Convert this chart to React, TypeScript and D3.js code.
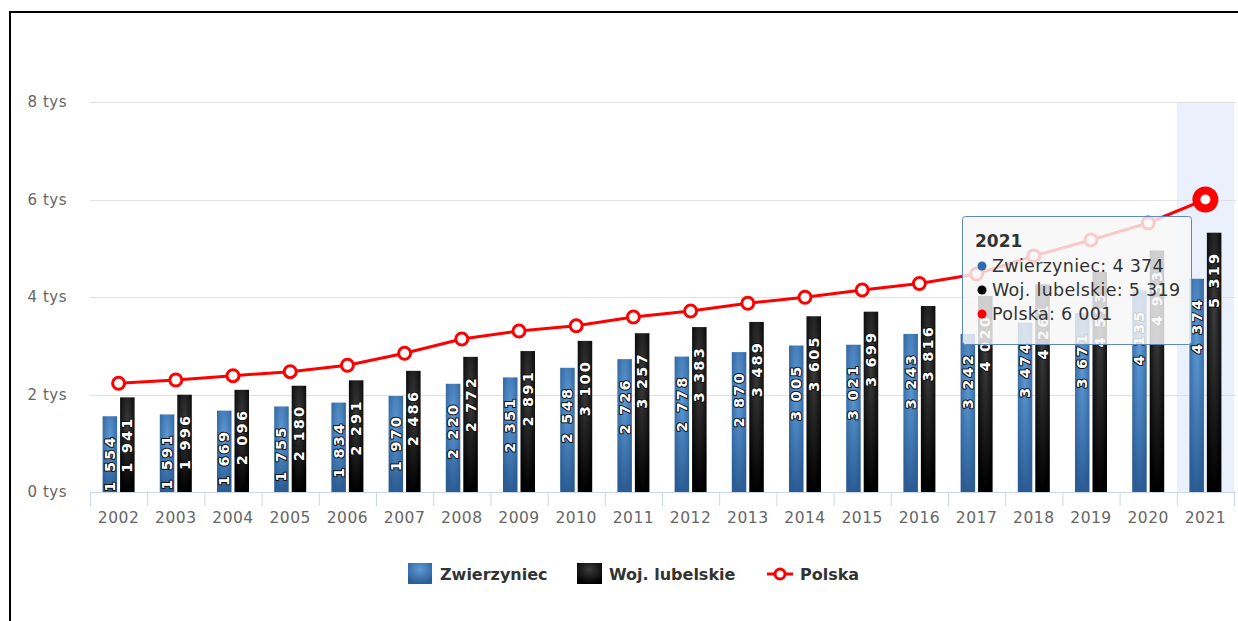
import React from "react";
import * as d3 from "d3";

const years = ["2002", "2003", "2004", "2005", "2006", "2007", "2008", "2009", "2010", "2011",
  "2012", "2013", "2014", "2015", "2016", "2017", "2018", "2019", "2020", "2021"];
const zwierzyniec = [1554, 1591, 1669, 1755, 1834, 1970, 2220, 2351, 2548, 2726,
  2778, 2870, 3005, 3021, 3243, 3242, 3474, 3671, 4135, 4374];
const lubelskie = [1941, 1996, 2096, 2180, 2291, 2486, 2772, 2891, 3100, 3257,
  3383, 3489, 3605, 3699, 3816, 4020, 4261, 4513, 4953, 5319];
const polska = [2230, 2297, 2386, 2468, 2600, 2845, 3138, 3303, 3411, 3590,
  3713, 3871, 3994, 4144, 4277, 4472, 4841, 5169, 5518, 6001];
const yTicks = [0, 2000, 4000, 6000, 8000];
const seriesNames = ["Zwierzyniec", "Woj. lubelskie", "Polska"];

const W = 1238;
const H = 621;
const margin = { top: 102, right: 4, bottom: 129, left: 90 };

const fmt = d3.formatLocale({ decimal: ",", thousands: " ", grouping: [3], currency: ["", ""] }).format(",");

function App() {
  const x = d3.scaleBand().domain(years).range([margin.left, 1234]);
  const xs = d3.scaleBand().domain(["a", "b"]).range([0, x.bandwidth()]).paddingInner(0.17).paddingOuter(0.72);
  const y = d3.scaleLinear().domain([0, 8000]).range([H - margin.bottom, margin.top]);
  const y0 = y(0);
  const cx = (i: number) => (x(years[i]) as number) + x.bandwidth() / 2;

  const line = d3.line<number>().x((_, i) => cx(i)).y((d) => y(d));
  const last = years.length - 1;
  const hx = x(years[last]) as number;

  const barSeries = [
    { key: "a", data: zwierzyniec, fill: "url(#gBlue)" },
    { key: "b", data: lubelskie, fill: "url(#gBlack)" },
  ];

  const font = "'DejaVu Sans', sans-serif";

  return (
    <svg width={W} height={H} style={{ position: "absolute", left: 0, top: 0, background: "#fff" }} fontFamily={font}>
      <defs>
        <radialGradient id="gBlue" cx="0.5" cy="0.3" r="0.7">
          <stop offset="0" stopColor="#5c9ad6" />
          <stop offset="1" stopColor="#2b5c94" />
        </radialGradient>
        <radialGradient id="gBlack" cx="0.5" cy="0.3" r="0.7">
          <stop offset="0" stopColor="#3c3c3c" />
          <stop offset="1" stopColor="#000" />
        </radialGradient>
      </defs>

      {/* frame */}
      <line x1={10} x2={10} y1={12} y2={H} stroke="#000" strokeWidth={2} />
      <line x1={9} x2={W} y1={12} y2={12} stroke="#000" strokeWidth={2} />

      {/* hover band */}
      <rect x={hx} y={margin.top} width={x.bandwidth()} height={y0 - margin.top} fill="#eaf1fc" />

      {/* grid + y labels */}
      {yTicks.map((t) => (
        <g key={t}>
          {t > 0 && <line x1={margin.left} x2={1236} y1={Math.round(y(t)) + 0.5} y2={Math.round(y(t)) + 0.5} stroke="#e0e0e0" />}
          <text x={67} y={y(t)} textAnchor="end" dominantBaseline="central" fontSize={15} fill="#666" letterSpacing={0.5}>
            {t / 1000} tys
          </text>
        </g>
      ))}

      {/* x axis */}
      <line x1={margin.left} x2={1236} y1={y0 + 0.5} y2={y0 + 0.5} stroke="#ccd6eb" />
      {years.map((yr) => (
        <line key={"t" + yr} x1={(x(yr) as number) + 0.5} x2={(x(yr) as number) + 0.5} y1={y0} y2={y0 + 14} stroke="#ccd6eb" />
      ))}
      <line x1={1234.5} x2={1234.5} y1={y0} y2={y0 + 14} stroke="#ccd6eb" />
      {years.map((yr) => (
        <text key={"l" + yr} x={(x(yr) as number) + x.bandwidth() / 2} y={523} textAnchor="middle" fontSize={15.5} fill="#666" letterSpacing={0.5}>
          {yr}
        </text>
      ))}

      {/* bars */}
      {barSeries.map((s) => (
        <g key={s.key}>
          {s.data.map((v, i) => (
            <rect key={i} x={(x(years[i]) as number) + (xs(s.key) as number)} y={y(v)} width={xs.bandwidth()} height={y0 - y(v)} fill={s.fill} />
          ))}
        </g>
      ))}

      {/* data labels */}
      {barSeries.map((s) => (
        <g key={"dl" + s.key}>
          {s.data.map((v, i) => (
            <text
              key={i}
              transform={`translate(${(x(years[i]) as number) + (xs(s.key) as number) + xs.bandwidth() / 2},${y(v) + 19}) rotate(-90)`}
              textAnchor="end"
              dominantBaseline="central"
              fontSize={14.5}
              fontWeight="bold"
              letterSpacing={2.2}
              fill="#fff"
              stroke="#111"
              strokeWidth={2}
              strokeLinejoin="round"
              paintOrder="stroke"
            >
              {fmt(v)}
            </text>
          ))}
        </g>
      ))}

      {/* Polska line */}
      <path d={line(polska) as string} fill="none" stroke="#ff0000" strokeWidth={3} />
      {polska.map((v, i) =>
        i === last ? null : (
          <circle key={i} cx={cx(i)} cy={y(v)} r={6} fill="#fff" stroke="#ff0000" strokeWidth={3} />
        )
      )}
      <circle cx={cx(last)} cy={y(polska[last])} r={9} fill="#fff" stroke="#ff0000" strokeWidth={8} />

      {/* tooltip */}
      <g>
        <rect x={962.5} y={216.5} width={229} height={128} rx={3} fill="rgba(247,247,247,0.82)" stroke="#5f87bb" strokeWidth={1} />
        <text x={975} y={247} fontSize={17} fontWeight="bold" fill="#333">{years[last]}</text>
        {[
          { c: "#2f6cae", name: seriesNames[0], v: zwierzyniec[last] },
          { c: "#000", name: seriesNames[1], v: lubelskie[last] },
          { c: "#ff0000", name: seriesNames[2], v: polska[last] },
        ].map((r, k) => (
          <g key={k}>
            <circle cx={982} cy={266 + k * 24} r={4.5} fill={r.c} />
            <text x={992} y={272 + k * 24} fontSize={17.5} fill="#333" letterSpacing={0.3}>
              {r.name}: {fmt(r.v)}
            </text>
          </g>
        ))}
      </g>

      {/* legend */}
      <g>
        <rect x={408} y={563} width={24} height={21} fill="url(#gBlue)" />
        <text x={440} y={580} fontSize={16} fontWeight="bold" fill="#333">{seriesNames[0]}</text>
        <rect x={577} y={563} width={25} height={21} fill="url(#gBlack)" />
        <text x={609} y={580} fontSize={16} fontWeight="bold" fill="#333">{seriesNames[1]}</text>
        <line x1={767} x2={793} y1={574} y2={574} stroke="#ff0000" strokeWidth={3} />
        <circle cx={780} cy={574} r={5} fill="#fff" stroke="#ff0000" strokeWidth={3} />
        <text x={800} y={580} fontSize={16} fontWeight="bold" fill="#333">{seriesNames[2]}</text>
      </g>
    </svg>
  );
}

export default App;
